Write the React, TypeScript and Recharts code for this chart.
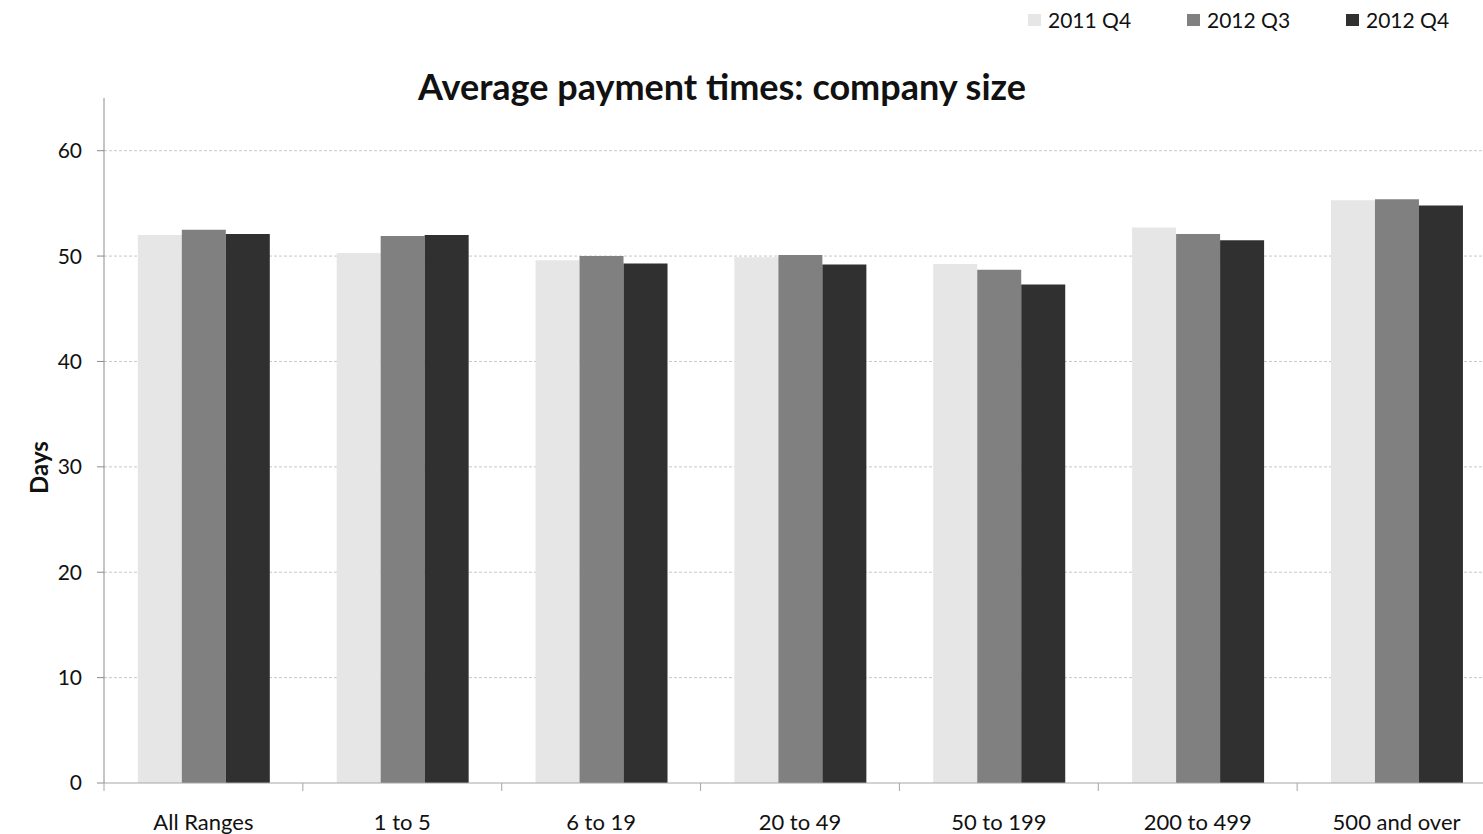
import { BarChart, Bar, XAxis, YAxis, CartesianGrid, Label } from 'recharts';

const categories = ['All Ranges', '1 to 5', '6 to 19', '20 to 49', '50 to 199', '200 to 499', '500 and over'];
const q4_2011 = [52.0, 50.3, 49.6, 49.9, 49.25, 52.7, 55.3];
const q3_2012 = [52.5, 51.9, 50.0, 50.1, 48.7, 52.1, 55.4];
const q4_2012 = [52.1, 52.0, 49.3, 49.2, 47.3, 51.5, 54.8];
const yTicks = [0, 10, 20, 30, 40, 50, 60];
const yMax = 65;

const seriesNames = ['2011 Q4', '2012 Q3', '2012 Q4'];
const colors = ['#e6e6e6', '#808080', '#303030'];

const data = categories.map((name, i) => ({
  name,
  a: q4_2011[i],
  b: q3_2012[i],
  c: q4_2012[i],
}));

const FONT = 'Lato, "Liberation Sans", sans-serif';
const CHART_W = 1500;
const CHART_H = 834;
const MARGIN = { top: 98, right: 4, left: 0, bottom: 0 };
const Y_W = 104;
const BAND = (CHART_W - MARGIN.left - MARGIN.right - Y_W) / categories.length;

function XTick(props: any) {
  const { x, y, payload } = props;
  return (
    <g>
      <line x1={x - BAND / 2} x2={x - BAND / 2} y1={y} y2={y + 8} stroke="#a6a6a6" strokeWidth={1} />
      <text x={x} y={y + 47} textAnchor="middle" fontFamily={FONT} fontSize={22} fill="#111">
        {payload.value}
      </text>
    </g>
  );
}

// legend sits above the plot, outside recharts so it doesn't push the plot down
function LegendBox() {
  return (
    <div
      style={{
        position: 'absolute',
        top: 7,
        left: 1028,
        display: 'flex',
        fontFamily: FONT,
        fontSize: 21,
        lineHeight: '26px',
        color: '#111',
      }}
    >
      {seriesNames.map((n, i) => (
        <div key={n} style={{ display: 'flex', alignItems: 'center', width: i === 2 ? 110 : 159 }}>
          <span style={{ display: 'inline-block', width: 13, height: 12, background: colors[i], marginRight: 7 }} />
          <span>{n}</span>
        </div>
      ))}
    </div>
  );
}

// only the gridlines at 10..60, not one at the top edge of the plot
const gridLines = (props: any) => {
  const scale = props?.yAxis?.scale;
  if (typeof scale === 'function') return yTicks.slice(1).map((t) => scale(t));
  const off = props?.offset ?? {};
  const top = off.top ?? MARGIN.top;
  const h = off.height ?? CHART_H - MARGIN.top - 51;
  return yTicks.slice(1).map((t) => top + h * (1 - t / yMax));
};

export default function App() {
  return (
    <div style={{ position: 'absolute', left: 0, top: 0, width: 1483, height: 834, overflow: 'hidden', background: '#fff' }}>
      <LegendBox />
      <div
        style={{
          position: 'absolute',
          left: 0,
          top: 64,
          width: 1444,
          textAlign: 'center',
          fontFamily: FONT,
          fontWeight: 700,
          fontSize: 36,
          lineHeight: '44px',
          color: '#111',
        }}
      >
        Average payment times: company size
      </div>
      <BarChart
        width={CHART_W}
        height={CHART_H}
        data={data}
        margin={MARGIN}
        barCategoryGap="17%"
        barGap={0}
      >
        <CartesianGrid
          vertical={false}
          stroke="#c8c8c8"
          strokeDasharray="3 2"
          horizontalCoordinatesGenerator={gridLines}
        />
        <XAxis
          dataKey="name"
          height={51}
          axisLine={{ stroke: '#a6a6a6' }}
          tickLine={false}
          tickSize={0}
          tickMargin={0}
          interval={0}
          tick={<XTick />}
        />
        <YAxis
          width={Y_W}
          domain={[0, yMax]}
          ticks={yTicks}
          allowDataOverflow
          axisLine={{ stroke: '#8c8c8c' }}
          tickLine={{ stroke: '#8c8c8c' }}
          tickSize={7}
          tickMargin={15}
          tick={{ fontFamily: FONT, fontSize: 21, fill: '#111' }}
        >
          <Label
            content={({ viewBox }: any) => {
              const cy = viewBox.y + viewBox.height / 2 + 27;
              return (
                <text
                  x={38}
                  y={cy}
                  transform={`rotate(-90 38 ${cy})`}
                  textAnchor="middle"
                  dominantBaseline="central"
                  fontFamily={FONT}
                  fontWeight={700}
                  fontSize={24}
                  fill="#111"
                >
                  Days
                </text>
              );
            }}
          />
        </YAxis>
        <Bar dataKey="a" name={seriesNames[0]} fill={colors[0]} isAnimationActive={false} />
        <Bar dataKey="b" name={seriesNames[1]} fill={colors[1]} isAnimationActive={false} />
        <Bar dataKey="c" name={seriesNames[2]} fill={colors[2]} isAnimationActive={false} />
      </BarChart>
    </div>
  );
}
